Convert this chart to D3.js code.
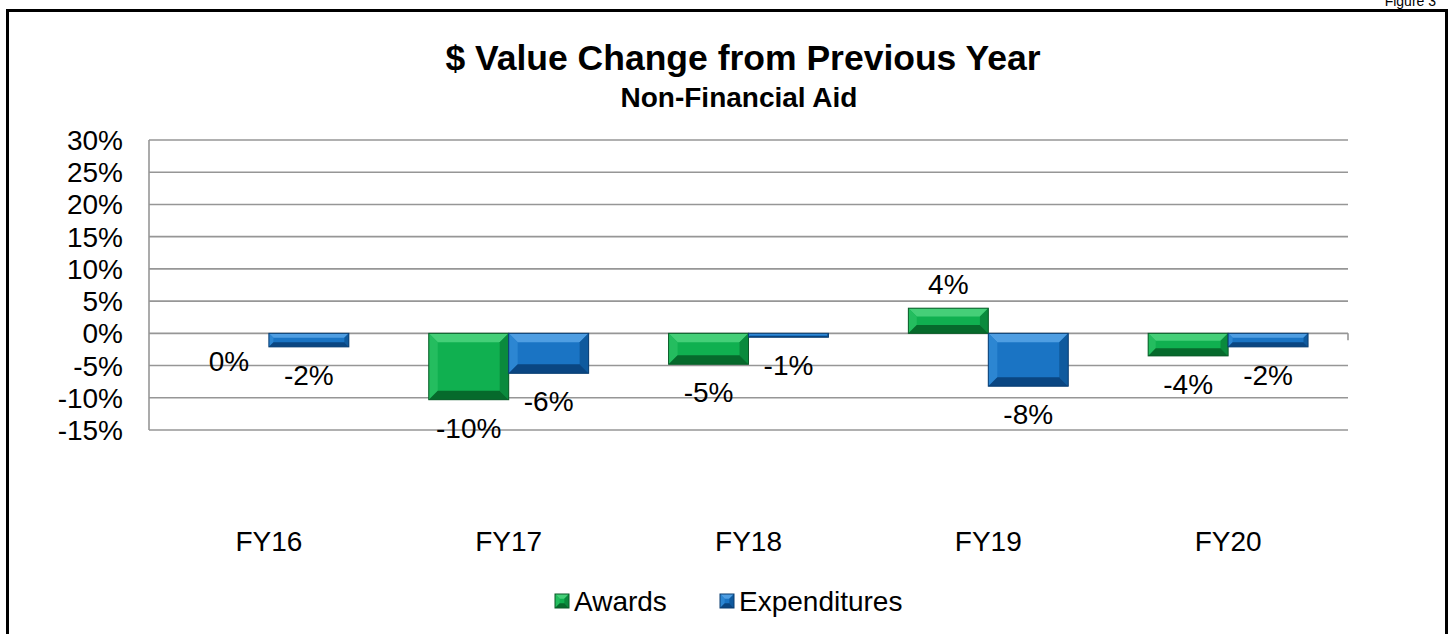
<!DOCTYPE html>
<html><head><meta charset="utf-8">
<script src="https://cdn.jsdelivr.net/npm/d3@7"></script>
<style>body{margin:0;background:#fff;} svg{display:block;font-family:"Liberation Sans",Arial,sans-serif;}</style>
</head><body>
<svg id="chart" width="1453" height="634"></svg>
<script>
const categories = ["FY16","FY17","FY18","FY19","FY20"];
const awards = [0, -10.3, -4.8, 3.9, -3.5];
const expenditures = [-2.1, -6.2, -0.6, -8.2, -2.1];
const awardLabels = ["0%","-10%","-5%","4%","-4%"];
const expLabels = ["-2%","-6%","-1%","-8%","-2%"];
const yTicks = [30,25,20,15,10,5,0,-5,-10,-15];
const seriesNames = ["Awards","Expenditures"];

const W = 1453, H = 634;
const svg = d3.select("#chart");
svg.append("rect").attr("width",W).attr("height",H).attr("fill","#fff");

// frame
svg.append("rect").attr("x",7.5).attr("y",10.5).attr("width",1439).attr("height",640)
  .attr("fill","none").attr("stroke","#000").attr("stroke-width",3);
svg.append("text").attr("x",1436).attr("y",6).attr("text-anchor","end")
  .attr("font-size",14).text("Figure 3");

svg.append("text").attr("x",743).attr("y",70).attr("text-anchor","middle")
  .attr("font-size",35.5).attr("font-weight","bold").text("$ Value Change from Previous Year");
svg.append("text").attr("x",739).attr("y",107).attr("text-anchor","middle")
  .attr("font-size",28).attr("font-weight","bold").text("Non-Financial Aid");

const x0 = 149, x1 = 1348;
const y = d3.scaleLinear().domain([-15,30]).range([430,140]);
const x = d3.scaleBand().domain(categories).range([x0,x1]);
const xs = d3.scaleBand().domain(seriesNames).range([0,x.bandwidth()]).paddingOuter(0.5);

// gridlines
svg.append("g").selectAll("line").data(yTicks).join("line")
  .attr("x1",x0).attr("x2",x1).attr("y1",d=>y(d)).attr("y2",d=>y(d))
  .attr("stroke","#969696").attr("stroke-width",1.6);
svg.append("line").attr("x1",x0).attr("x2",x0).attr("y1",y(30)).attr("y2",y(-15))
  .attr("stroke","#969696").attr("stroke-width",1.6);
svg.append("line").attr("x1",x1).attr("x2",x1).attr("y1",y(0)).attr("y2",y(0)+7)
  .attr("stroke","#969696").attr("stroke-width",1.6);

// y tick labels
svg.append("g").selectAll("text").data(yTicks).join("text")
  .attr("x",123).attr("y",d=>y(d)+10).attr("text-anchor","end")
  .attr("font-size",28).text(d=>d+"%");

const palettes = {
  Awards: {face:"#10b050", top:"#45cf78", left:"#24bd5f", right:"#0a8a3d", bottom:"#066a2c", stroke:"#0a5a28"},
  Expenditures: {face:"#1a74c4", top:"#4f9ee2", left:"#2c86d2", right:"#0f5a9e", bottom:"#0a4682", stroke:"#0a3d70"}
};

function bevelBar(g, bx, by, bw, bh, pal){
  if (bh <= 0.5) return;
  const b = Math.min(9, bh/3, bw/3);
  g.append("rect").attr("x",bx).attr("y",by).attr("width",bw).attr("height",bh).attr("fill",pal.face);
  const P = (pts,fill)=>g.append("polygon").attr("points",pts.map(p=>p.join(",")).join(" ")).attr("fill",fill);
  P([[bx,by],[bx+bw,by],[bx+bw-b,by+b],[bx+b,by+b]], pal.top);
  P([[bx,by],[bx+b,by+b],[bx+b,by+bh-b],[bx,by+bh]], pal.left);
  P([[bx+bw,by],[bx+bw,by+bh],[bx+bw-b,by+bh-b],[bx+bw-b,by+b]], pal.right);
  P([[bx,by+bh],[bx+b,by+bh-b],[bx+bw-b,by+bh-b],[bx+bw,by+bh]], pal.bottom);
  g.append("rect").attr("x",bx).attr("y",by).attr("width",bw).attr("height",bh)
    .attr("fill","none").attr("stroke",pal.stroke).attr("stroke-width",1);
}

const series = [
  {name:"Awards", values:awards, labels:awardLabels},
  {name:"Expenditures", values:expenditures, labels:expLabels}
];
const barsG = svg.append("g");
const labG = svg.append("g");
series.forEach(s=>{
  categories.forEach((c,i)=>{
    const v = s.values[i];
    const bx = x(c) + xs(s.name);
    const bw = xs.bandwidth();
    const top = Math.min(y(v), y(0)), bot = Math.max(y(v), y(0));
    bevelBar(barsG, bx, top, bw, bot-top, palettes[s.name]);
    const ly = v > 0 ? y(v) - 14 : y(v) + 38;
    labG.append("text").attr("x",bx+bw/2).attr("y",ly).attr("text-anchor","middle")
      .attr("font-size",28).text(s.labels[i]);
  });
});

// category labels
svg.append("g").selectAll("text").data(categories).join("text")
  .attr("x",d=>x(d)+x.bandwidth()/2).attr("y",551).attr("text-anchor","middle")
  .attr("font-size",28).text(d=>d);

// legend
const legend = [{name:"Awards", x:555},{name:"Expenditures", x:720}];
legend.forEach(l=>{
  const g = svg.append("g");
  bevelBar(g, l.x, 594, 14, 14, palettes[l.name]);
  svg.append("text").attr("x",l.x+19).attr("y",611).attr("font-size",28).text(l.name);
});
</script>
</body></html>
